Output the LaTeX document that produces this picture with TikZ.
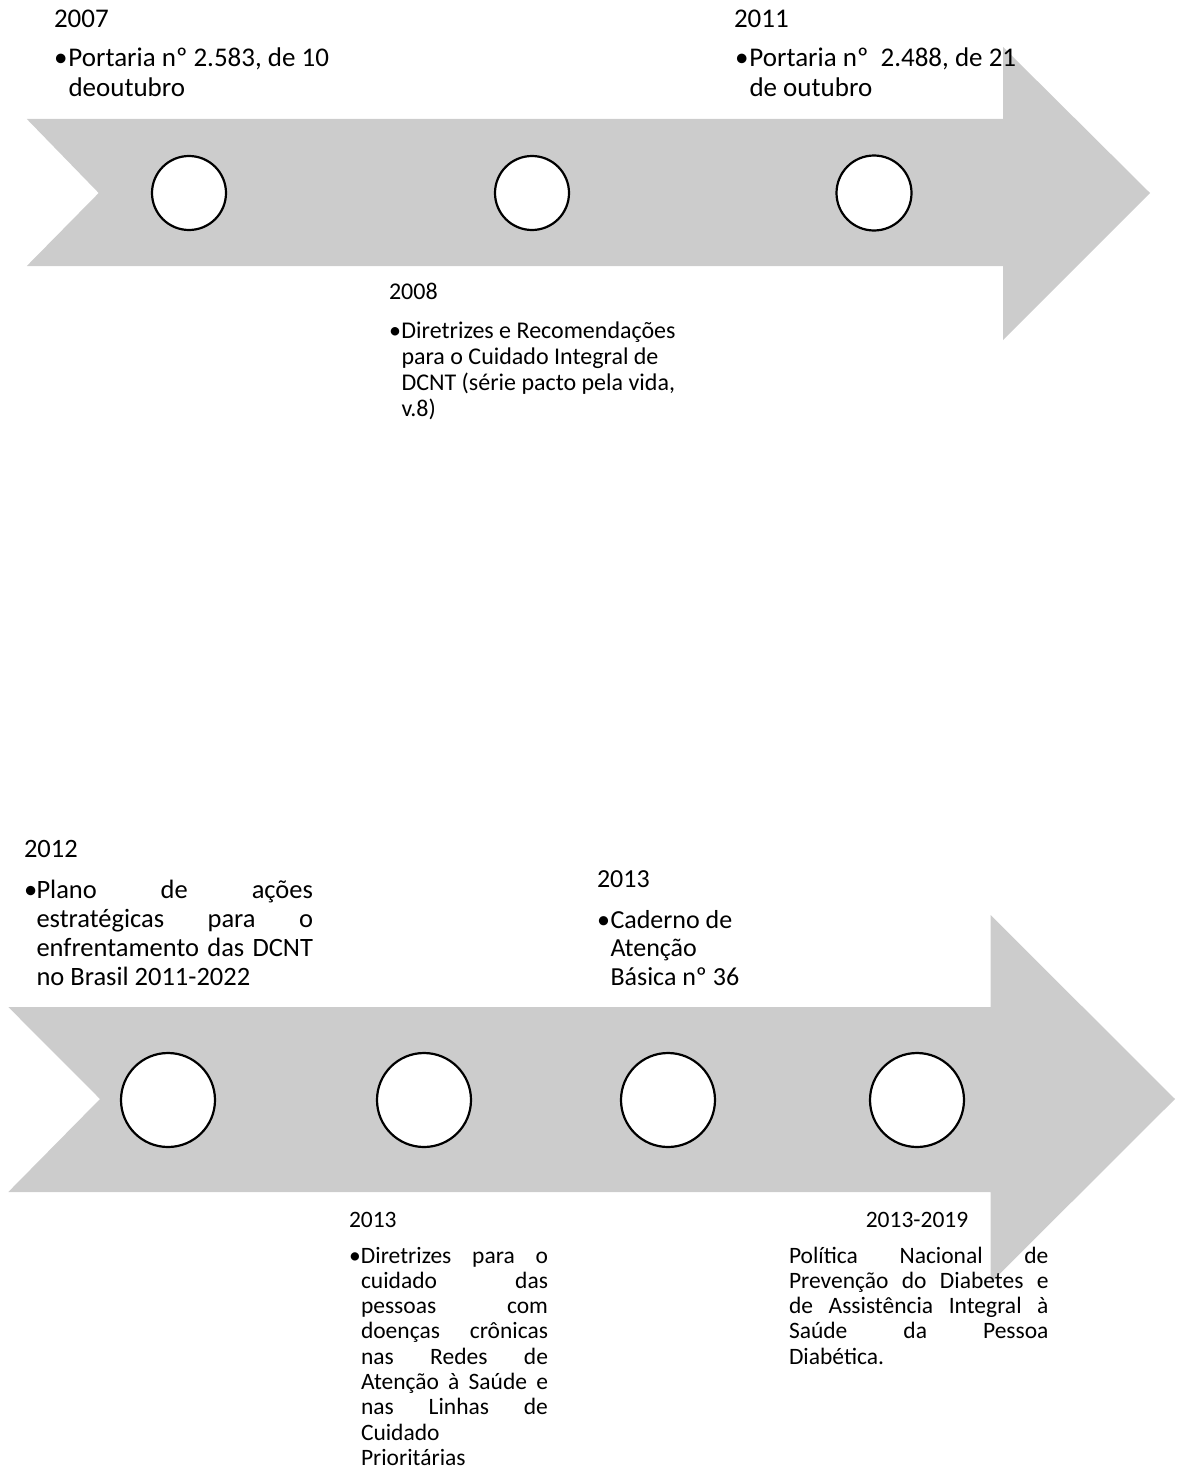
\documentclass[tikz,border=0pt]{standalone}
\usepackage{fontspec}
\setmainfont{Carlito}
\definecolor{arrowgray}{RGB}{204,204,204}
\newcommand\fsz[2]{\fontsize{#1pt}{#2pt}\selectfont}
% bullet line, indented line, justified line (with/without bullet)
\newcommand\bl[2]{\hbox{\hbox to #1pt{\textbullet\hfil}#2}}
\newcommand\il[2]{\hbox{\hskip #1pt\relax #2}}
\newcommand\jl[3]{\hbox{\hskip #1pt\relax\hbox to #2pt{#3}}}
\newcommand\jb[3]{\hbox{\hbox to #1pt{\textbullet\hfil}\hbox to #2pt{#3}}}
\tikzset{
  txt/.style={anchor=base west, inner sep=0pt, outer sep=0pt},
  dotc/.style={circle, draw=black, fill=white, line width=2.2pt, inner sep=0pt},
}
\begin{document}
\begin{tikzpicture}[x=1pt,y=-1pt]
\useasboundingbox (0,0) rectangle (1176,1477);
% top arrow
\fill[arrowgray] (26.8,119) -- (1003,119) -- (1003,47) -- (1150,193) -- (1003,340)
  -- (1003,266) -- (26.8,266) -- (98.7,193) -- cycle;
% bottom arrow
\fill[arrowgray] (8.3,1007) -- (990.5,1007) -- (990.5,915) -- (1175,1099) -- (990.5,1283)
  -- (990.5,1192) -- (8.3,1192) -- (100,1099) -- cycle;
% circles
\node[dotc, minimum size=74pt] (c1) at (189,193) {};
\node[dotc, minimum size=74pt] (c2) at (532,193) {};
\node[dotc, minimum size=75pt] (c3) at (874,193) {};
\node[dotc, minimum size=94pt] (d1) at (168,1100) {};
\node[dotc, minimum size=94pt] (d2) at (424,1100) {};
\node[dotc, minimum size=94pt] (d3) at (668,1100) {};
\node[dotc, minimum size=94pt] (d4) at (917,1100) {};
% texts top
\node[txt, font=\fsz{27}{30}] (h2007) at (54,28) {2007};
\node[txt] (t2007) at (54,67) {\vtop{\fsz{27}{30}%
  \bl{14.5}{Portaria nº 2.583, de 10}%
  \il{14.5}{deoutubro}}};
\node[txt, font=\fsz{27}{30}] (h2011) at (734,28) {2011};
\node[txt] (t2011) at (735,67) {\vtop{\fsz{27}{30}%
  \bl{14.5}{Portaria nº \ 2.488, de 21}%
  \il{14.5}{de outubro}}};
\node[txt, font=\fsz{24}{26.3}] (h2008) at (389,299) {2008};
\node[txt] (t2008) at (389,338) {\vtop{\fsz{24}{26.3}%
  \bl{12.5}{Diretrizes e Recomendações}%
  \il{12.5}{para o Cuidado Integral de}%
  \il{12.5}{DCNT (série pacto pela vida,}%
  \il{12.5}{v.8)}}};
% texts bottom
\node[txt, font=\fsz{26.5}{29}] (h2012) at (24,857) {2012};
\node[txt] (t2012) at (24,898) {\vtop{\fsz{26.5}{29}%
  \jb{12.5}{276.5}{Plano de ações}%
  \jl{12.5}{276.5}{estratégicas para o}%
  \jl{12.5}{276.5}{enfrentamento das DCNT}%
  \il{12.5}{no Brasil 2011-2022}}};
\node[txt, font=\fsz{26}{28.5}] (h2013a) at (597,887) {2013};
\node[txt] (t2013a) at (597,928) {\vtop{\fsz{26}{28.5}%
  \bl{13.5}{Caderno de}%
  \il{13.5}{Atenção}%
  \il{13.5}{Básica nº 36}}};
\node[txt, font=\fsz{23.5}{25.3}] (h2013b) at (349,1227) {2013};
\node[txt] (t2013b) at (349,1263) {\vtop{\fsz{23.5}{25.3}%
  \jb{12}{187}{Diretrizes para o}%
  \jl{12}{187}{cuidado das}%
  \jl{12}{187}{pessoas com}%
  \jl{12}{187}{doenças crônicas}%
  \jl{12}{187}{nas Redes de}%
  \jl{12}{187}{Atenção à Saúde e}%
  \jl{12}{187}{nas Linhas de}%
  \il{12}{Cuidado}%
  \il{12}{Prioritárias}}};
\node[anchor=base, inner sep=0pt, font=\fsz{23.5}{25.3}] (h2019) at (917,1227) {2013-2019};
\node[txt] (t2019) at (789,1263) {\vtop{\fsz{23.5}{25.3}%
  \jl{0}{259.5}{Política Nacional de}%
  \jl{0}{259.5}{Prevenção do Diabetes e}%
  \jl{0}{259.5}{de Assistência Integral à}%
  \jl{0}{259.5}{Saúde da Pessoa}%
  \il{0}{Diabética.}}};
\end{tikzpicture}
\end{document}
